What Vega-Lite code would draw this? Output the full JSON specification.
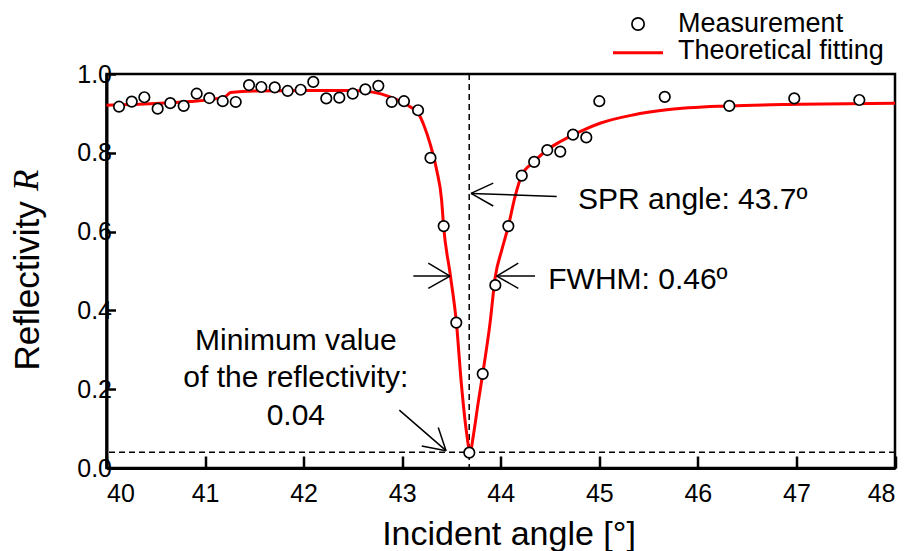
{
  "$schema": "https://vega.github.io/schema/vega-lite/v6.json",
  "autosize": {"type": "none"},
  "width": 788.5,
  "height": 394,
  "padding": {"left": 106.5, "top": 74, "right": 16.5, "bottom": 83},
  "background": "white",
  "config": {
    "view": {"stroke": "black", "strokeWidth": 2.5},
    "font": "Liberation Sans",
    "axis": {"grid": false, "domainColor": "black", "domainWidth": 3, "tickColor": "black", "labelColor": "black", "titleColor": "black", "labelFont": "Liberation Sans", "titleFont": "Liberation Sans", "titleFontWeight": "normal"}
  },
  "datasets": {
    "meas": [
      {"angle": 40.127, "R": 0.917}, {"angle": 40.256, "R": 0.930}, {"angle": 40.384, "R": 0.941},
      {"angle": 40.519, "R": 0.912}, {"angle": 40.647, "R": 0.926}, {"angle": 40.783, "R": 0.919},
      {"angle": 40.915, "R": 0.950}, {"angle": 41.043, "R": 0.939}, {"angle": 41.179, "R": 0.931},
      {"angle": 41.311, "R": 0.929}, {"angle": 41.446, "R": 0.972}, {"angle": 41.571, "R": 0.967},
      {"angle": 41.707, "R": 0.966}, {"angle": 41.838, "R": 0.957}, {"angle": 41.970, "R": 0.960},
      {"angle": 42.098, "R": 0.980}, {"angle": 42.230, "R": 0.938}, {"angle": 42.362, "R": 0.940},
      {"angle": 42.498, "R": 0.950}, {"angle": 42.626, "R": 0.961}, {"angle": 42.758, "R": 0.970},
      {"angle": 42.894, "R": 0.929}, {"angle": 43.018, "R": 0.931}, {"angle": 43.161, "R": 0.908},
      {"angle": 43.287, "R": 0.787}, {"angle": 43.421, "R": 0.614}, {"angle": 43.549, "R": 0.369},
      {"angle": 43.681, "R": 0.039}, {"angle": 43.817, "R": 0.239}, {"angle": 43.945, "R": 0.464},
      {"angle": 44.077, "R": 0.614}, {"angle": 44.213, "R": 0.742}, {"angle": 44.339, "R": 0.777},
      {"angle": 44.472, "R": 0.807}, {"angle": 44.604, "R": 0.803}, {"angle": 44.733, "R": 0.846},
      {"angle": 44.868, "R": 0.839}, {"angle": 45.000, "R": 0.931}, {"angle": 45.664, "R": 0.942},
      {"angle": 46.319, "R": 0.919}, {"angle": 46.978, "R": 0.938}, {"angle": 47.638, "R": 0.934}
    ],
    "fit": [
      {"angle": 40.0, "R": 0.921}, {"angle": 40.85, "R": 0.930}, {"angle": 41.2, "R": 0.942},
      {"angle": 41.26, "R": 0.953}, {"angle": 41.5, "R": 0.957}, {"angle": 42.0, "R": 0.958},
      {"angle": 42.5, "R": 0.958}, {"angle": 42.7, "R": 0.954}, {"angle": 42.876, "R": 0.942},
      {"angle": 43.08, "R": 0.917}, {"angle": 43.164, "R": 0.900}, {"angle": 43.22, "R": 0.870},
      {"angle": 43.282, "R": 0.824}, {"angle": 43.35, "R": 0.756}, {"angle": 43.40, "R": 0.680},
      {"angle": 43.42, "R": 0.614}, {"angle": 43.49, "R": 0.487}, {"angle": 43.55, "R": 0.369},
      {"angle": 43.60, "R": 0.215}, {"angle": 43.65, "R": 0.096}, {"angle": 43.69, "R": 0.040},
      {"angle": 43.72, "R": 0.079}, {"angle": 43.77, "R": 0.164}, {"angle": 43.817, "R": 0.239},
      {"angle": 43.891, "R": 0.367}, {"angle": 43.945, "R": 0.486}, {"angle": 44.01, "R": 0.553},
      {"angle": 44.077, "R": 0.614}, {"angle": 44.145, "R": 0.689}, {"angle": 44.213, "R": 0.743},
      {"angle": 44.337, "R": 0.777}, {"angle": 44.469, "R": 0.807}, {"angle": 44.601, "R": 0.828},
      {"angle": 44.804, "R": 0.854}, {"angle": 45.007, "R": 0.875}, {"angle": 45.342, "R": 0.896},
      {"angle": 45.684, "R": 0.909}, {"angle": 46.319, "R": 0.919}, {"angle": 47.036, "R": 0.923},
      {"angle": 48.0, "R": 0.926}
    ],
    "arrows": [
      {"x": 44.568, "y": 0.689, "x2": 43.698, "y2": 0.697},
      {"x": 43.698, "y": 0.697, "x2": 43.924, "y2": 0.723},
      {"x": 43.698, "y": 0.697, "x2": 43.924, "y2": 0.665},
      {"x": 44.348, "y": 0.487, "x2": 43.959, "y2": 0.487},
      {"x": 43.959, "y": 0.487, "x2": 44.178, "y2": 0.520},
      {"x": 43.959, "y": 0.487, "x2": 44.178, "y2": 0.456},
      {"x": 43.113, "y": 0.487, "x2": 43.485, "y2": 0.487},
      {"x": 43.485, "y": 0.487, "x2": 43.265, "y2": 0.520},
      {"x": 43.485, "y": 0.487, "x2": 43.265, "y2": 0.456},
      {"x": 42.971, "y": 0.147, "x2": 43.445, "y2": 0.044},
      {"x": 43.445, "y": 0.044, "x2": 43.366, "y2": 0.103},
      {"x": 43.445, "y": 0.044, "x2": 43.198, "y2": 0.056}
    ]
  },
  "layer": [
    {
      "data": {"values": [{"ref": "minimum"}]},
      "mark": {"type": "rule", "color": "black", "strokeWidth": 1.5, "strokeDash": [6, 4]},
      "encoding": {"y": {"datum": 0.04, "type": "quantitative", "scale": {"domain": [0, 1], "nice": false, "zero": false}}}
    },
    {
      "data": {"values": [{"ref": "spr"}]},
      "mark": {"type": "rule", "color": "black", "strokeWidth": 1.5, "strokeDash": [6, 4]},
      "encoding": {"x": {"datum": 43.68, "type": "quantitative", "scale": {"domain": [40, 48], "nice": false, "zero": false}}}
    },
    {
      "data": {"name": "fit"},
      "mark": {"type": "line", "color": "#ff0000", "strokeWidth": 3, "interpolate": "monotone"},
      "encoding": {
        "x": {"field": "angle", "type": "quantitative", "scale": {"domain": [40, 48], "nice": false, "zero": false},
              "axis": {"values": [40, 41, 42, 43, 44, 45, 46, 47, 48], "format": "d", "tickSize": -12, "tickWidth": 2.5, "labelFontSize": 25, "labelPadding": 25, "title": "Incident angle [°]", "titleFontSize": 34, "titleX": 402, "titleY": 76, "titleBaseline": "alphabetic", "titleAlign": "center"}},
        "y": {"field": "R", "type": "quantitative", "scale": {"domain": [0, 1], "nice": false, "zero": false},
              "axis": {"values": [0, 0.2, 0.4, 0.6, 0.8, 1.0], "format": ".1f", "tickSize": -9, "tickWidth": 2.5, "labelFontSize": 25, "labelPadding": 4, "title": "Reflectivity", "titleFontSize": 35, "titleAngle": 270, "titleX": -68.5, "titleY": 296, "titleAlign": "left", "titleBaseline": "alphabetic"}}
      }
    },
    {
      "data": {"name": "meas"},
      "mark": {"type": "point", "shape": "circle", "filled": false, "fill": "white", "fillOpacity": 1, "stroke": "black", "strokeWidth": 1.7, "size": 110, "opacity": 1},
      "encoding": {
        "x": {"field": "angle", "type": "quantitative"},
        "y": {"field": "R", "type": "quantitative"}
      }
    },
    {
      "data": {"name": "arrows"},
      "mark": {"type": "rule", "color": "black", "strokeWidth": 1.5},
      "encoding": {
        "x": {"field": "x", "type": "quantitative"},
        "y": {"field": "y", "type": "quantitative"},
        "x2": {"field": "x2"},
        "y2": {"field": "y2"}
      }
    },
    {
      "data": {"values": [{"t": "SPR angle: 43.7º"}]},
      "mark": {"type": "text", "fontSize": 30, "align": "left", "baseline": "alphabetic", "color": "black"},
      "encoding": {"x": {"datum": 44.784, "type": "quantitative"}, "y": {"datum": 0.657, "type": "quantitative"}, "text": {"field": "t"}}
    },
    {
      "data": {"values": [{"t": "FWHM: 0.46º"}]},
      "mark": {"type": "text", "fontSize": 30, "align": "left", "baseline": "alphabetic", "color": "black"},
      "encoding": {"x": {"datum": 44.482, "type": "quantitative"}, "y": {"datum": 0.454, "type": "quantitative"}, "text": {"field": "t"}}
    },
    {
      "data": {"values": [{"t": "Minimum value\nof the reflectivity:\n0.04"}]},
      "mark": {"type": "text", "fontSize": 30, "align": "center", "baseline": "alphabetic", "lineBreak": "\n", "lineHeight": 37.5, "color": "black"},
      "encoding": {"x": {"datum": 41.921, "type": "quantitative"}, "y": {"datum": 0.2995, "type": "quantitative"}, "text": {"field": "t"}}
    },
    {
      "data": {"values": [{"t": "R"}]},
      "mark": {"type": "text", "font": "Liberation Serif", "fontStyle": "italic", "fontSize": 35, "angle": 270, "align": "left", "baseline": "alphabetic", "color": "black"},
      "encoding": {"x": {"datum": 39.305, "type": "quantitative"}, "y": {"datum": 0.703, "type": "quantitative"}, "text": {"field": "t"}}
    },
    {
      "data": {"values": [{"series": "Measurement"}]},
      "mark": {"type": "point", "shape": "circle", "filled": false, "fill": "white", "fillOpacity": 1, "stroke": "black", "strokeWidth": 1.7, "size": 150},
      "encoding": {"x": {"datum": 45.393, "type": "quantitative"}, "y": {"datum": 1.1269, "type": "quantitative"}}
    },
    {
      "data": {"values": [{"series": "Theoretical fitting"}]},
      "mark": {"type": "rule", "color": "#ff0000", "strokeWidth": 3},
      "encoding": {"x": {"datum": 45.139, "type": "quantitative"}, "x2": {"datum": 45.646}, "y": {"datum": 1.054, "type": "quantitative"}}
    },
    {
      "data": {"values": [{"series": "Measurement"}]},
      "mark": {"type": "text", "fontSize": 27, "align": "left", "baseline": "alphabetic", "color": "black"},
      "encoding": {"x": {"datum": 45.799, "type": "quantitative"}, "y": {"datum": 1.1074, "type": "quantitative"}, "text": {"field": "series"}}
    },
    {
      "data": {"values": [{"series": "Theoretical fitting"}]},
      "mark": {"type": "text", "fontSize": 27, "align": "left", "baseline": "alphabetic", "color": "black"},
      "encoding": {"x": {"datum": 45.799, "type": "quantitative"}, "y": {"datum": 1.0381, "type": "quantitative"}, "text": {"field": "series"}}
    }
  ]
}
